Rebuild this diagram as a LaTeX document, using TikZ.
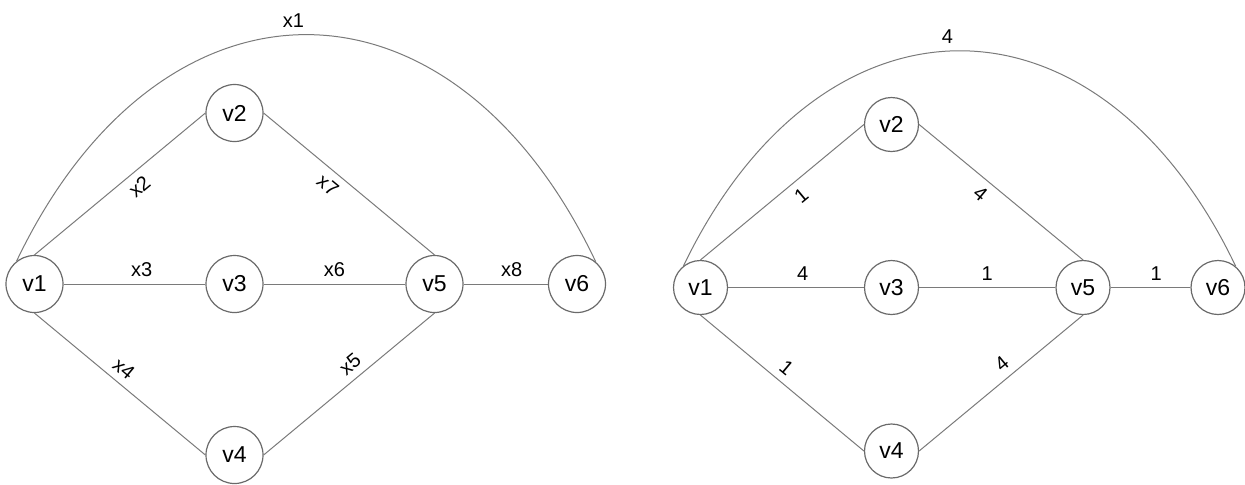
\documentclass[tikz,border=0pt]{standalone}
\usepackage{fontspec}
\setmainfont{Liberation Sans}
\usetikzlibrary{positioning}
\definecolor{EdgeGray}{HTML}{7A7A7A}
\definecolor{NodeGray}{HTML}{6A6A6A}

\begin{document}
\begin{tikzpicture}[
    x=0.5pt,y=-0.5pt,
    vnode/.style={circle,draw=NodeGray,line width=0.6pt,minimum size=28.5pt,inner sep=0pt,font=\fontsize{11.5}{13}\selectfont},
    snode/.style={vnode,minimum size=27pt},
    wire/.style={draw=EdgeGray,line width=0.5pt},
    elab/.style={font=\fontsize{10}{12}\selectfont,inner sep=2pt}
  ]
  \useasboundingbox (0,0) rectangle (1245,484);
  % Left graph: vertices
  \node[vnode] (a1) at (34.5,284) {v1};
  \node[vnode] (a2) at (234.5,113) {v2};
  \node[vnode] (a3) at (234.5,284) {v3};
  \node[vnode] (a4) at (234.5,455) {v4};
  \node[vnode] (a5) at (434.5,284) {v5};
  \node[vnode] (a6) at (577,284) {v6};
  % Left graph: edges x1..x8
  \draw[wire] (a1.128) .. controls (161,-41) and (452,-41) .. node[elab,above=1.5pt,pos=0.48]{x1} (a6.50);
  \draw[wire] (a1.north) -- node[elab,sloped,below=1.5pt,pos=0.56]{x2} (a2.west);
  \draw[wire] (a1) -- node[elab,above=1.5pt,pos=0.55]{x3} (a3);
  \draw[wire] (a1.south) -- node[elab,sloped,above=1.5pt,pos=0.47]{x4} (a4.west);
  \draw[wire] (a4.east) -- node[elab,sloped,above=1.5pt,pos=0.56]{x5} (a5.south);
  \draw[wire] (a3) -- node[elab,above=1.5pt,pos=0.5]{x6} (a5);
  \draw[wire] (a2.east) -- node[elab,sloped,below=1.5pt,pos=0.43]{x7} (a5.north);
  \draw[wire] (a5) -- node[elab,above=1.5pt,pos=0.57]{x8} (a6);
  % Right graph: vertices
  \node[snode] (b1) at (700.5,287.5) {v1};
  \node[snode] (b2) at (891.5,124.5) {v2};
  \node[snode] (b3) at (891.5,287.5) {v3};
  \node[snode] (b4) at (891.5,451) {v4};
  \node[snode] (b5) at (1083,287.5) {v5};
  \node[snode] (b6) at (1218,287.5) {v6};
  % Right graph: weights
  \draw[wire] (b1.128) .. controls (821.6,-21) and (1098.5,-21) .. node[elab,above=1.5pt,pos=0.48]{4} (b6.50);
  \draw[wire] (b1.north) -- node[elab,sloped,below=1.5pt,pos=0.56]{1} (b2.west);
  \draw[wire] (b1) -- node[elab,above=1.5pt,pos=0.55]{4} (b3);
  \draw[wire] (b1.south) -- node[elab,sloped,above=1.5pt,pos=0.47]{1} (b4.west);
  \draw[wire] (b4.east) -- node[elab,sloped,above=1.5pt,pos=0.56]{4} (b5.south);
  \draw[wire] (b3) -- node[elab,above=1.5pt,pos=0.5]{1} (b5);
  \draw[wire] (b2.east) -- node[elab,sloped,below=1.5pt,pos=0.43]{4} (b5.north);
  \draw[wire] (b5) -- node[elab,above=1.5pt,pos=0.57]{1} (b6);
\end{tikzpicture}
\end{document}
